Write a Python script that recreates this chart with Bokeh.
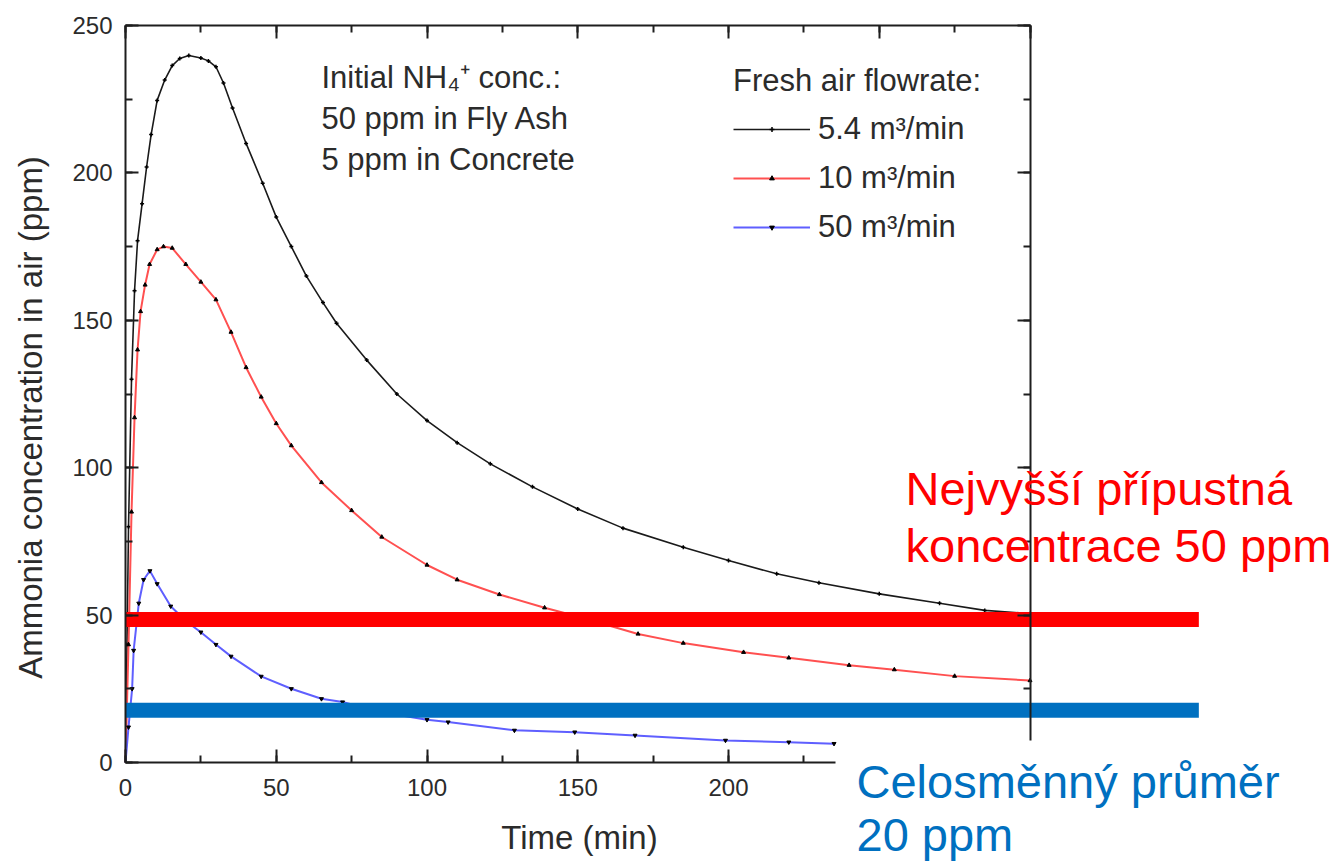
from bokeh.plotting import figure
from bokeh.models import Range1d, LinearAxis, SingleIntervalTicker, Label, Legend, LegendItem
from bokeh.embed import file_html
from bokeh.resources import INLINE

# ---------------- data ----------------
# fresh air flowrate 5.4 m3/min
t_54 = [0, 0.5, 1, 2, 3, 4, 5.5, 7, 8.5, 10.5, 13, 15.5, 18, 21, 25, 27.5, 30, 32.5, 35.5,
        40, 45.5, 50, 55, 60, 65.5, 70, 80, 90, 100, 110, 121, 135, 150, 165, 185, 200, 216,
        230, 250, 270, 285, 300]
c_54 = [0, 40, 80, 130, 160, 177, 189.5, 202, 213, 224.6, 231.5, 236.4, 238.8, 239.8, 239,
        238, 236, 230.5, 222, 210, 196.5, 185, 175, 165, 156, 149, 136.5, 125, 116, 108.5,
        101.3, 93.5, 86, 79.5, 73, 68.5, 64, 61, 57.2, 54, 51.6, 50.5]
# fresh air flowrate 10 m3/min
t_10 = [0, 1, 2, 3, 4, 5, 6.5, 8, 10.5, 12.6, 15.5, 20, 25, 30, 35, 40, 45, 50, 55, 65,
        75, 85, 100, 110, 124, 139, 150, 170, 185, 205, 220, 240, 255, 275, 300]
c_10 = [0, 40, 85, 117, 140, 153, 162, 169, 174, 175, 174.5, 169, 163, 157, 146, 134, 124,
        115, 107.5, 95, 85.5, 76.5, 67, 62, 57, 52.5, 49.5, 43.6, 40.5, 37.4, 35.5, 33, 31.5,
        29.3, 27.8]
# fresh air flowrate 50 m3/min (the rest of the curve is hidden in the picture)
t_50 = [0, 1, 2.2, 2.7, 4.4, 6, 8.1, 10.5, 15, 20, 25, 30, 35, 45, 55, 65, 72, 85, 100,
        107, 129, 149, 169, 199, 220, 235]
c_50 = [0, 12, 25, 38, 54, 62, 65, 60.6, 53, 48, 44.2, 40, 36, 29.2, 25, 21.6, 20.5, 17,
        14.5, 13.7, 10.9, 10.3, 9.2, 7.5, 6.9, 6.4]

series_labels = ["5.4 m\u00b3/min", "10 m\u00b3/min", "50 m\u00b3/min"]

# reference bands (drawn where they appear in the picture)
limit_level = 48.5     # "Nejvyšší přípustná koncentrace 50 ppm"
shift_level = 17.7     # "Celosměnný průměr 20 ppm"
band_x = [0, 356]

x_tick_interval = 50
y_tick_interval = 50

FONT = "Liberation Sans"
AX = "#1e1e1e"
TXT = "#2b2b2b"

# ---------------- geometry: the frame covers the whole page ----------------
W, H = 1342, 865
X0_PX, X_SCALE = 125, 603 / 200      # x = 0 at 125 px, 3.015 px per minute
Y0_PX, Y_SCALE = 762, 737 / 250      # y = 0 at 762 px, 2.948 px per ppm
x_start = -X0_PX / X_SCALE
y_start = -(H - Y0_PX) / Y_SCALE

p = figure(width=W, height=H, output_backend="svg", toolbar_location=None,
           x_range=Range1d(x_start, x_start + W / X_SCALE),
           y_range=Range1d(y_start, y_start + H / Y_SCALE),
           min_border=0)
p.outline_line_color = None
p.xgrid.visible = False
p.ygrid.visible = False
p.background_fill_color = "white"
p.border_fill_color = "white"


def style_axis(ax, show_labels=True):
    ax.major_tick_in = 13
    ax.major_tick_out = 0
    ax.minor_tick_in = 7
    ax.minor_tick_out = 0
    ax.axis_line_width = 2
    ax.major_tick_line_width = 2
    ax.minor_tick_line_width = 2
    ax.axis_line_color = AX
    ax.major_tick_line_color = AX
    ax.minor_tick_line_color = AX
    ax.major_label_text_font = FONT
    ax.major_label_text_font_size = "24px"
    ax.major_label_text_color = TXT if show_labels else None


xb = p.below[0]
xb.ticker = SingleIntervalTicker(interval=x_tick_interval, num_minor_ticks=2)
xb.bounds = (0, 235.5)
xb.fixed_location = 0
style_axis(xb)
xb.major_label_standoff = 16

yl = p.left[0]
yl.ticker = SingleIntervalTicker(interval=y_tick_interval, num_minor_ticks=2)
yl.bounds = (0, 250)
yl.fixed_location = 0
style_axis(yl)
yl.major_label_standoff = 13

top = LinearAxis(ticker=SingleIntervalTicker(interval=x_tick_interval, num_minor_ticks=2),
                 bounds=(0, 300), fixed_location=250)
style_axis(top, show_labels=False)
p.add_layout(top, "above")

right = LinearAxis(ticker=SingleIntervalTicker(interval=y_tick_interval, num_minor_ticks=2),
                   bounds=(7.5, 250), fixed_location=300)
style_axis(right, show_labels=False)
p.add_layout(right, "right")

# ---------------- curves ----------------
l54 = p.line(t_54, c_54, line_color="#1a1a1a", line_width=1.6)
m54 = p.scatter(t_54[1:], c_54[1:], marker="cross", size=4, line_color="black", line_width=1.5)
l10 = p.line(t_10, c_10, line_color="#ff5050", line_width=2)
m10 = p.scatter(t_10[1:], c_10[1:], marker="triangle", size=4, fill_color="black", line_color="black")
l50 = p.line(t_50, c_50, line_color="#5f5fff", line_width=2)
m50 = p.scatter(t_50[1:], c_50[1:], marker="inverted_triangle", size=4, fill_color="black", line_color="black")

# ---------------- bands ----------------
p.line(band_x, [limit_level, limit_level], line_color="#ff0000", line_width=15)
p.line(band_x, [shift_level, shift_level], line_color="#0070c0", line_width=15)

# ---------------- legend ----------------
legend = Legend(items=[LegendItem(label=series_labels[0], renderers=[l54, m54]),
                       LegendItem(label=series_labels[1], renderers=[l10, m10]),
                       LegendItem(label=series_labels[2], renderers=[l50, m50])],
                location=(733, 865 - 247), title="Fresh air flowrate:",
                title_text_font=FONT, title_text_font_size="31px", title_text_font_style="normal",
                title_text_color=TXT, title_standoff=10,
                label_text_font=FONT, label_text_font_size="31px", label_text_color=TXT,
                glyph_width=77, glyph_height=12, label_height=40, spacing=9, label_standoff=8,
                padding=0, margin=0, border_line_color=None, background_fill_alpha=0)
p.add_layout(legend)


# ---------------- texts ----------------
def dx(px):
    return x_start + px / X_SCALE


def dy(py):
    return y_start + (H - py) / Y_SCALE


def add_text(text, px, py, size, color, align="left", angle=0):
    # (px, py): visual centre line of the text, in page pixels
    p.add_layout(Label(x=dx(px), y=dy(py), text=text, text_font=FONT,
                       text_font_size=f"{size}px", text_color=color, text_align=align,
                       text_baseline="middle", angle=angle))


add_text("Initial NH\u2084\u207a conc.:", 321, 88 - 11, 31, TXT)
add_text("50 ppm in Fly Ash", 321, 129 - 11, 31, TXT)
add_text("5 ppm in Concrete", 321, 170 - 11, 31, TXT)

add_text("Time (min)", 579, 849 - 12, 33, TXT, align="center")
add_text("Ammonia concentration in air (ppm)", 30, 417, 33, TXT, align="center", angle=1.5707963)

add_text("Nejvyšší přípustná", 905, 505 - 17, 47, "#ff0000")
add_text("koncentrace 50 ppm", 905, 562 - 17, 47, "#ff0000")
add_text("Celosměnný průměr", 856, 798 - 17, 47, "#0070c0")
add_text("20 ppm", 856, 851 - 17, 47, "#0070c0")

open("out.html", "w").write(file_html(p, INLINE))
